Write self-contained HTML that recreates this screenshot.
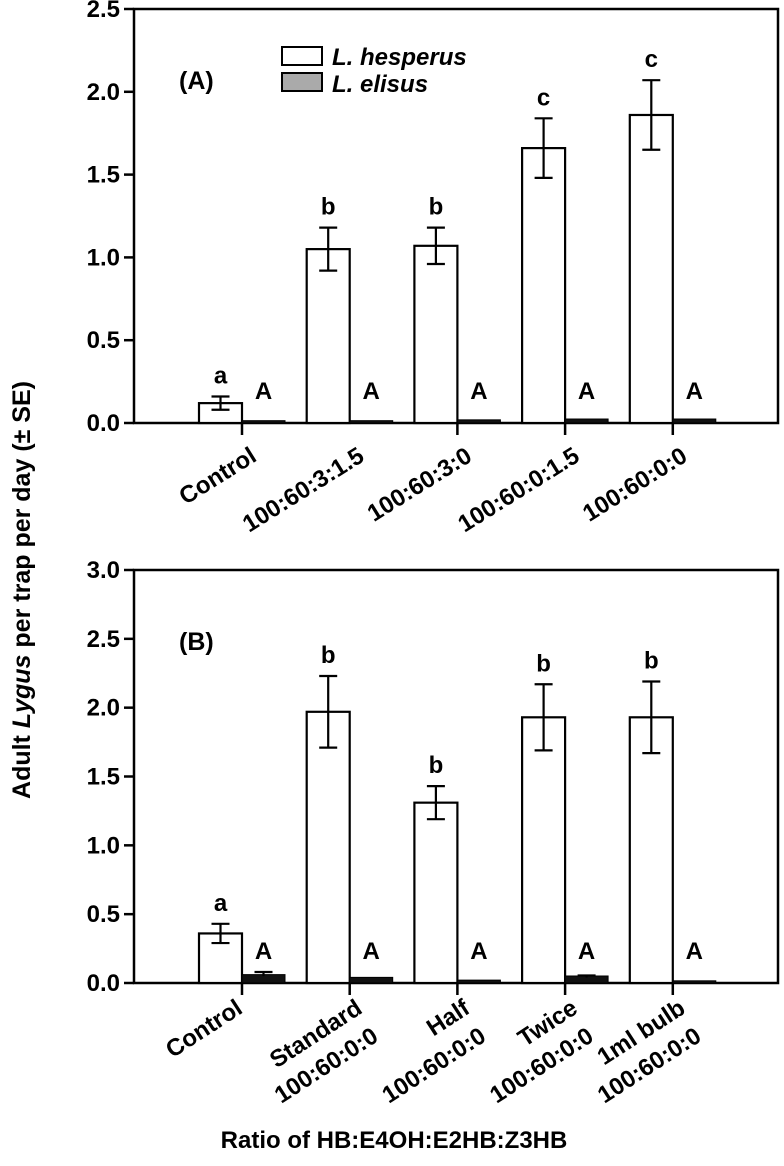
<!DOCTYPE html>
<html><head><meta charset="utf-8"><style>
html,body{margin:0;padding:0;background:#fff;}
svg{display:block;font-family:"Liberation Sans",Arial,sans-serif;font-weight:bold;}
</style></head><body>
<svg id="chart" width="784" height="1166" viewBox="0 0 784 1166" xmlns="http://www.w3.org/2000/svg">
<text x="30" y="590" font-size="25" text-anchor="middle" transform="rotate(-90 30 590)">Adult <tspan font-style="italic">Lygus</tspan> per trap per day (± SE)</text>
<text x="394" y="1148" font-size="24" text-anchor="middle">Ratio of HB:E4OH:E2HB:Z3HB</text>
<g id="pa"></g>
<g id="pb"></g>
</svg>
<script>
const catsA = ["Control","100:60:3:1.5","100:60:3:0","100:60:0:1.5","100:60:0:0"];
const hespA = [0.12,1.05,1.07,1.66,1.86];
const hespSeA = [0.04,0.13,0.11,0.18,0.21];
const eliA = [0.005,0.005,0.01,0.015,0.015];
const eliSeA = [0,0,0,0,0];
const lettersA = ["a","b","b","c","c"];
const lettersEA = ["A","A","A","A","A"];
const ticksA = [0,0.5,1.0,1.5,2.0,2.5];

const catsB1 = ["Control","Standard","Half","Twice","1ml bulb"];
const catsB2 = ["","100:60:0:0","100:60:0:0","100:60:0:0","100:60:0:0"];
const hespB = [0.36,1.97,1.31,1.93,1.93];
const hespSeB = [0.07,0.26,0.12,0.24,0.26];
const eliB = [0.05,0.03,0.01,0.04,0.005];
const eliSeB = [0.03,0,0,0.015,0];
const lettersB = ["a","b","b","b","b"];
const lettersEB = ["A","A","A","A","A"];
const ticksB = [0,0.5,1.0,1.5,2.0,2.5,3.0];

const NS="http://www.w3.org/2000/svg";
function mk(parent,tag,attrs,text){const e=document.createElementNS(NS,tag);for(const k in attrs)e.setAttribute(k,attrs[k]);if(text!==undefined)e.textContent=text;parent.appendChild(e);return e;}
const L=134,R=778,BW=43,FS=24;
function xc(i){return 242+107.7*i;}

function panel(g,top,bottom,ymax,ticks,hesp,hse,eli,ese,let1,let2,label,tickIdx){
  const y=v=>bottom-(v/ymax)*(bottom-top);
  const frame=mk(g,'rect',{x:L,y:top,width:R-L,height:bottom-top,fill:'none',stroke:'#000','stroke-width':2.5});
  
  
  ticks.forEach(t=>{
    const ln=mk(g,'line',{x1:L-10,x2:L,y1:y(t),y2:y(t),stroke:'#000','stroke-width':2.5});
    
    
    const tx=mk(g,'text',{x:L-14,y:y(t)+8,'font-size':FS,'text-anchor':'end'},t.toFixed(1));
    
    
  });
  tickIdx.forEach(i=>{
    const ln=mk(g,'line',{x1:xc(i),x2:xc(i),y1:bottom,y2:bottom+12,stroke:'#000','stroke-width':2.5});
    
    
  });
  const pl=mk(g,'text',{x:L+45,y:top+80,'font-size':25},label);
  
  
  hesp.forEach((v,i)=>{
    const cx=xc(i);
    const b=mk(g,'rect',{x:cx-BW,y:y(v),width:BW,height:bottom-y(v),fill:'#fff',stroke:'#000','stroke-width':2.2});
    
    
    const m=cx-BW/2,hi=y(v+hse[i]),lo=y(v-hse[i]);
    const eb=mk(g,'path',{d:`M${m},${hi}V${lo}M${m-9},${hi}H${m+9}M${m-9},${lo}H${m+9}`,stroke:'#000','stroke-width':2.2,fill:'none'});
    
    
    const lt=mk(g,'text',{x:m,y:hi-13,'font-size':FS,'text-anchor':'middle'},let1[i]);
    
    
    const e=eli[i];
    const b2=mk(g,'rect',{x:cx,y:y(e)-1.5,width:BW,height:bottom-y(e)+1.5,fill:'#111',stroke:'#000','stroke-width':1});
    
    
    const m2=cx+BW/2;
    let top2=y(e)-1.5;
    if(ese[i]>0){const h2=y(e+ese[i]);top2=h2;
      const eb2=mk(g,'path',{d:`M${m2},${h2}V${y(e)}M${m2-9},${h2}H${m2+9}`,stroke:'#000','stroke-width':2.2,fill:'none'});
      
      }
    const lt2=mk(g,'text',{x:m2,y:Math.min(top2,bottom-14)-10,'font-size':FS,'text-anchor':'middle'},let2[i]);
    
    
  });
  return y;
}

const ga=document.getElementById('pa');
panel(ga,9,423,2.5,ticksA,hespA,hespSeA,eliA,eliSeA,lettersA,lettersEA,"(A)",[0,2,3,4]);
catsA.forEach((c,i)=>{
  const x=xc(i)+16,yy=460;
  const t=mk(ga,'text',{x:x,y:yy,'font-size':FS,'text-anchor':'end',transform:`rotate(-32 ${x} ${yy})`},c);
  
  
});
const lg=mk(ga,'g',{});


const l1=mk(lg,'rect',{x:282,y:47,width:40,height:18,fill:'#fff',stroke:'#000','stroke-width':2});


const l2=mk(lg,'rect',{x:282,y:73,width:40,height:18,fill:'#aaa',stroke:'#000','stroke-width':2});


const t1=mk(lg,'text',{x:332,y:65,'font-size':24,'font-style':'italic'},'L. hesperus');


const t2=mk(lg,'text',{x:332,y:92,'font-size':24,'font-style':'italic'},'L. elisus');



const gb=document.getElementById('pb');
panel(gb,570,983,3.0,ticksB,hespB,hespSeB,eliB,eliSeB,lettersB,lettersEB,"(B)",[0,1,2,3,4]);
catsB1.forEach((c,i)=>{
  const x=xc(i)+(i===0?2:14),yy=1012;
  const t=mk(gb,'text',{x:x,y:yy,'font-size':FS,'text-anchor':'end',transform:`rotate(-33 ${x} ${yy})`},c);
  
  
  if(catsB2[i]){
    const x2=xc(i)+30,y2=1040;
    const t2=mk(gb,'text',{x:x2,y:y2,'font-size':FS,'text-anchor':'end',transform:`rotate(-33 ${x2} ${y2})`},catsB2[i]);
    
    
  }
});
</script>
</body></html>
